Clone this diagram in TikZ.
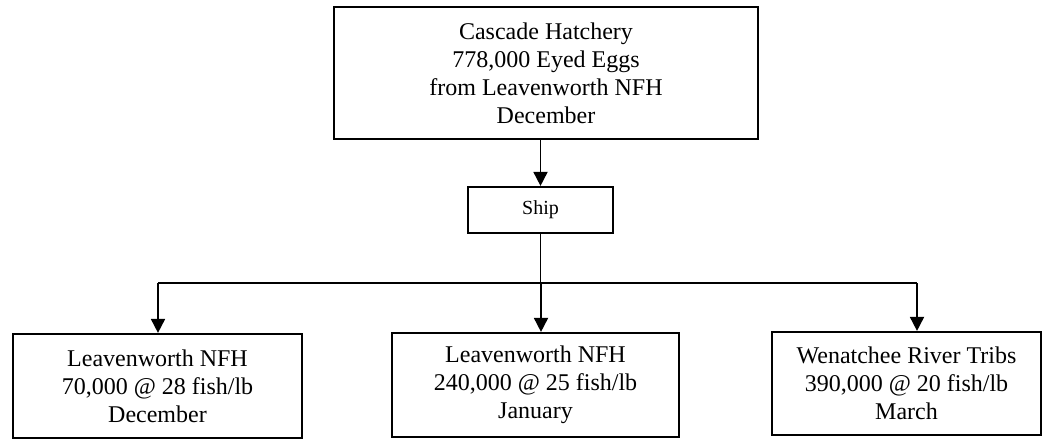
\documentclass[tikz,border=0pt]{standalone}
\usepackage{fontspec}
\setmainfont{Liberation Serif}
\usetikzlibrary{arrows.meta}

\begin{document}
\begin{tikzpicture}[x=.5pt,y=-.5pt,
  box/.style={draw,line width=1.1pt,align=center,inner sep=0pt,font=\fontsize{12}{14}\selectfont},
  arr/.style={line width=.9pt,-{Triangle[width=7pt,length=7pt]}}]
\useasboundingbox (0,0) rectangle (1042,441);
\node[box,minimum width=212pt,minimum height=66pt] (hatch) at (546,73) {Cascade Hatchery\\778,000 Eyed Eggs\\from Leavenworth NFH\\December};
\node[box,minimum width=72.5pt,minimum height=23pt,font=\fontsize{10}{12}\selectfont] (ship) at (540.5,210) {Ship};
\node[box,minimum width=144.5pt,minimum height=52pt] (leave1) at (157.5,386) {Leavenworth NFH\\70,000 @ 28 fish/lb\\December};
\node[box,minimum width=143.5pt,minimum height=52pt] (leave2) at (535.5,385) {Leavenworth NFH\\240,000 @ 25 fish/lb\\January};
\node[box,minimum width=134.5pt,minimum height=51.5pt] (wen) at (906.5,383.5) {Wenatchee River Tribs\\390,000 @ 20 fish/lb\\March};
\coordinate (split) at (540.5,283);
\coordinate (d1) at (158,283); \coordinate (d2) at (541,283); \coordinate (d3) at (917,283);
\draw[arr] (ship |- hatch.south) -- (ship.north);
\draw[line width=.9pt] (ship.south) -- (split);
\draw[line width=.9pt] (d1) -- (d3);
\foreach \d/\n in {d1/leave1,d2/leave2,d3/wen}{\draw[arr] (\d) -- (\d |- \n.north);}
\end{tikzpicture}
\end{document}
